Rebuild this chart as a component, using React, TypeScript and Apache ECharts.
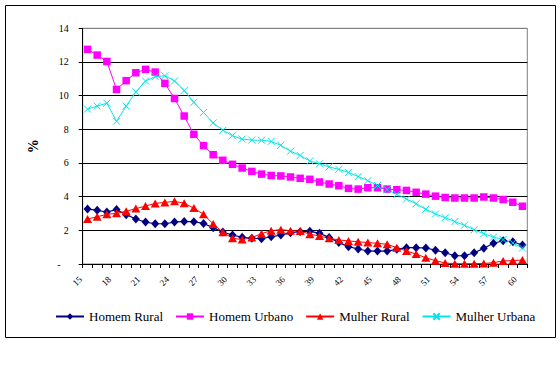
import React, { useEffect, useRef } from "react";
import * as echarts from "echarts";

const ages = [
  "15", "16", "17", "18", "19", "20", "21", "22", "23", "24", "25", "26", "27", "28", "29", "30",
  "31", "32", "33", "34", "35", "36", "37", "38", "39", "40", "41", "42", "43", "44", "45",
  "46", "47", "48", "49", "50", "51", "52", "53", "54", "55", "56", "57", "58", "59", "60",
];

const homemRural = [
  3.27, 3.19, 3.09, 3.23, 2.93, 2.67, 2.49, 2.39, 2.39, 2.49, 2.53, 2.51, 2.41, 2.16, 1.9, 1.72,
  1.59, 1.53, 1.5, 1.62, 1.72, 1.86, 1.92, 1.95, 1.82, 1.58, 1.27, 1.03, 0.89, 0.77, 0.77,
  0.77, 0.87, 0.97, 0.97, 0.95, 0.82, 0.67, 0.49, 0.49, 0.67, 0.93, 1.23, 1.38, 1.32, 1.13,
];

const homemUrbano = [
  12.75, 12.41, 12.03, 10.37, 10.89, 11.36, 11.56, 11.4, 10.73, 9.83, 8.79, 7.7, 7.03, 6.49, 6.16, 5.92,
  5.7, 5.5, 5.34, 5.26, 5.23, 5.17, 5.09, 5.03, 4.87, 4.75, 4.65, 4.49, 4.45, 4.53, 4.53,
  4.45, 4.41, 4.37, 4.26, 4.15, 4.03, 3.95, 3.92, 3.92, 3.92, 3.98, 3.92, 3.83, 3.67, 3.43,
];

const mulherRural = [
  2.67, 2.81, 2.95, 3.01, 3.13, 3.29, 3.44, 3.6, 3.66, 3.72, 3.61, 3.32, 2.95, 2.38, 1.88, 1.53,
  1.45, 1.57, 1.8, 1.98, 2.04, 1.98, 1.96, 1.77, 1.66, 1.53, 1.43, 1.37, 1.32, 1.27, 1.23,
  1.17, 0.97, 0.77, 0.59, 0.37, 0.2, 0.06, 0.02, 0.01, 0.02, 0.03, 0.08, 0.18, 0.2, 0.24,
];

const mulherUrbana = [
  9.2, 9.38, 9.55, 8.48, 9.38, 10.22, 10.87, 11.13, 11.18, 10.87, 10.3, 9.6, 9.0, 8.38, 7.94, 7.62,
  7.42, 7.36, 7.35, 7.28, 7.05, 6.7, 6.45, 6.12, 5.95, 5.77, 5.62, 5.44, 5.19, 4.95, 4.66,
  4.42, 4.14, 3.86, 3.58, 3.25, 2.97, 2.75, 2.52, 2.3, 2.03, 1.8, 1.6, 1.45, 1.25, 0.95,
];

const seriesNames = ["Homem Rural", "Homem Urbano", "Mulher Rural", "Mulher Urbana"];

const SERIF = "Liberation Serif";

export default function App() {
  const ref = useRef<HTMLDivElement>(null);

  useEffect(() => {
    document.body.style.margin = "0";
    if (!ref.current) return;
    const chart = echarts.init(ref.current, undefined, { renderer: "svg" });
    const option: any = {
      animation: false,
      backgroundColor: "#ffffff",
      textStyle: { fontFamily: SERIF },
      grid: {
        left: 82.7,
        top: 28.3,
        right: 32.7,
        bottom: 102,
        show: true,
        borderColor: "#808080",
        borderWidth: 1,
        backgroundColor: "transparent",
      },
      xAxis: {
        type: "category",
        data: ages,
        boundaryGap: true,
        axisLine: { lineStyle: { color: "#000", width: 1 } },
        axisTick: { show: true, interval: 0, length: 4, lineStyle: { color: "#000" } },
        axisLabel: {
          interval: 2,
          rotate: 45,
          fontSize: 9,
          fontFamily: SERIF,
          color: "#000",
          margin: 7,
          padding: [0, 10, 0, 0],
        },
        splitLine: { show: false },
      },
      yAxis: {
        type: "value",
        min: 0,
        max: 14,
        interval: 2,
        name: "%",
        nameLocation: "middle",
        nameRotate: 90,
        nameGap: 42,
        nameTextStyle: { fontWeight: "bold", fontSize: 14, fontFamily: SERIF, color: "#000" },
        axisLine: { show: true, lineStyle: { color: "#000", width: 1 } },
        axisTick: { show: true, length: 4, lineStyle: { color: "#000" } },
        axisLabel: {
          fontSize: 10,
          fontFamily: SERIF,
          color: "#000",
          margin: 14,
          formatter: (v: number) => (v === 0 ? "{d|-}" : String(v)),
          rich: { d: { fontSize: 10, fontFamily: SERIF, color: "#000", padding: [0, 8, 0, 0] } },
        },
        splitLine: {
          show: true,
          lineStyle: {
            color: ["#000", "#000", "#000", "#000", "#000", "#000", "#000", "#808080"],
            width: 1,
          },
        },
      },
      legend: {
        data: seriesNames,
        left: 50,
        top: 305,
        itemWidth: 28,
        itemHeight: 8,
        itemGap: 12,
        textStyle: { fontFamily: SERIF, fontSize: 13, color: "#000" },
      },
      graphic: [
        {
          type: "rect",
          shape: { x: 5.5, y: 5.5, width: 550, height: 332 },
          style: { fill: "none", stroke: "#000", lineWidth: 1 },
          silent: true,
        },
      ],
      series: [
        {
          name: seriesNames[0],
          type: "line",
          data: homemRural,
          symbol: "diamond",
          symbolSize: [8, 9],
          showAllSymbol: true,
          itemStyle: { color: "#000080" },
          lineStyle: { color: "#000080", width: 1.2 },
        },
        {
          name: seriesNames[1],
          type: "line",
          data: homemUrbano,
          symbol: "rect",
          symbolSize: 7.5,
          showAllSymbol: true,
          itemStyle: { color: "#FF00FF" },
          lineStyle: { color: "#FF00FF", width: 1 },
        },
        {
          name: seriesNames[2],
          type: "line",
          data: mulherRural,
          symbol: "triangle",
          symbolSize: [9, 8],
          showAllSymbol: true,
          itemStyle: { color: "#FF0000" },
          lineStyle: { color: "#FF0000", width: 1 },
        },
        {
          name: seriesNames[3],
          type: "line",
          data: mulherUrbana,
          symbol: "path://M0,0L10,10M0,10L10,0",
          symbolSize: 7,
          showAllSymbol: true,
          itemStyle: { color: "#00E6E6", borderColor: "#00E6E6", borderWidth: 1 },
          lineStyle: { color: "#00E6E6", width: 1 },
        },
      ],
    };
    chart.setOption(option);
    return () => {
      chart.dispose();
    };
  }, []);

  return <div ref={ref} style={{ width: 560, height: 366 }} />;
}
